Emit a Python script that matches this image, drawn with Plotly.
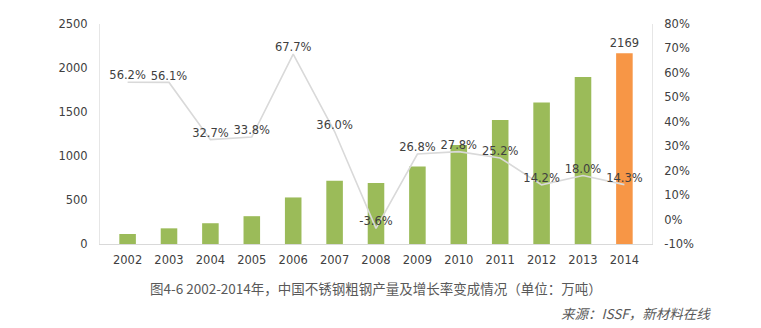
import plotly.graph_objects as go

years = ["2002", "2003", "2004", "2005", "2006", "2007", "2008",
         "2009", "2010", "2011", "2012", "2013", "2014"]
output = [114, 178, 236, 316, 529, 720, 694, 880, 1125, 1408, 1608, 1898, 2169]
growth = [56.2, 56.1, 32.7, 33.8, 67.7, 36.0, -3.6, 26.8, 27.8, 25.2, 14.2, 18.0, 14.3]
left_ticks = [0, 500, 1000, 1500, 2000, 2500]
right_ticks = [-10, 0, 10, 20, 30, 40, 50, 60, 70, 80]

caption = "图4-6 2002-2014年，中国不锈钢粗钢产量及增长率变成情况（单位：万吨）"
source = "来源：ISSF，新材料在线"

green = "#9bbb59"
orange = "#f79646"
bar_colors = [green] * (len(years) - 1) + [orange]
bar_text = [""] * (len(years) - 1) + [str(output[-1])]

font_family = "DejaVu Sans, Verdana, sans-serif"
txt_color = "#404040"

fig = go.Figure()
fig.add_trace(go.Bar(
    x=years, y=output, marker=dict(color=bar_colors, line=dict(width=0)),
    width=0.4, text=bar_text, textposition="outside", cliponaxis=False,
    constraintext="none",
    textfont=dict(size=11.5, color=txt_color, family=font_family),
    showlegend=False, yaxis="y",
))
fig.add_trace(go.Scatter(
    x=years, y=growth, mode="lines+text", yaxis="y2",
    line=dict(color="#d9d9d9", width=1.6),
    text=[f"{g:.1f}%" for g in growth], textposition="top center",
    textfont=dict(size=11.5, color=txt_color, family=font_family),
    showlegend=False, cliponaxis=False,
))

pw = 761 - 100 - 109
ph = 328 - 24 - 84


def px_to_paper(px_x, px_y):
    return (px_x - 100) / pw, (328 - px_y - 84) / ph


cx, cy = px_to_paper(376, 288)
sx, sy = px_to_paper(713, 313)

fig.update_layout(
    width=761, height=328,
    margin=dict(l=100, r=109, t=24, b=84),
    paper_bgcolor="white", plot_bgcolor="white",
    font=dict(family=font_family, color=txt_color, size=11),
    bargap=0.6,
    uniformtext=dict(mode=False),
    xaxis=dict(type="category", showgrid=False, showline=True, linecolor="#d9d9d9",
               linewidth=1, ticks="", ticklabelstandoff=5,
               tickfont=dict(size=11.5, color=txt_color)),
    yaxis=dict(range=[0, 2500], tickvals=left_ticks, showgrid=False, showline=True,
               linecolor="#e6e6e6", linewidth=1, ticks="", zeroline=False,
               ticklabelstandoff=9, tickfont=dict(size=11.5, color=txt_color)),
    yaxis2=dict(range=[-10, 80], tickvals=right_ticks,
                ticktext=[f"{t}%" for t in right_ticks], overlaying="y", side="right",
                showgrid=False, showline=True, linecolor="#e6e6e6", linewidth=1,
                ticks="", zeroline=False, ticklabelstandoff=9,
                tickfont=dict(size=11.5, color=txt_color)),
    annotations=[
        dict(text=caption, x=cx, y=cy, xref="paper", yref="paper", yanchor="middle",
             showarrow=False, font=dict(size=13.5, color="#595959",
                                        family="Noto Sans CJK SC")),
        dict(text="<i>" + source + "</i>", x=sx, y=sy, xref="paper", yref="paper",
             xanchor="right", yanchor="middle", showarrow=False,
             font=dict(size=13.5, color="#595959", family="Noto Sans CJK SC")),
    ],
)

fig.write_html("out.html")
